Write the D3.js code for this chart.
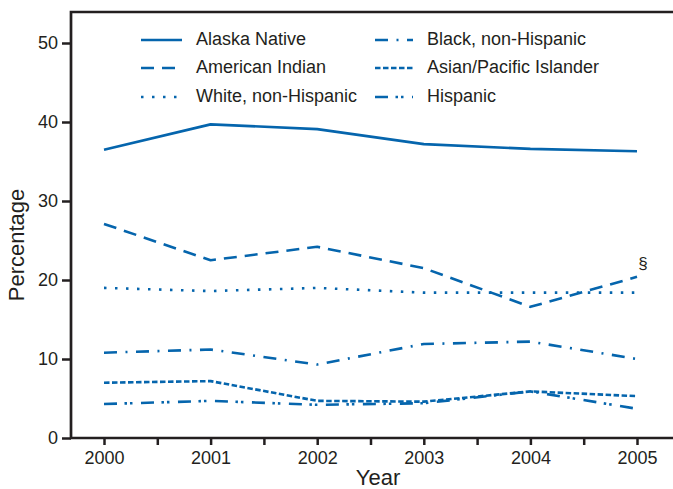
<!DOCTYPE html>
<html>
<head>
<meta charset="utf-8">
<script src="https://cdn.jsdelivr.net/npm/d3@7"></script>
<style>
  body { margin: 0; background: #fff; }
  text { font-family: "Liberation Sans", Arial, sans-serif; fill: #231f20; }
</style>
</head>
<body>
<svg id="chart" width="673" height="489"></svg>
<script>
// data
const years = [2000, 2001, 2002, 2003, 2004, 2005];
const alaskaNative = [36.5, 39.7, 39.1, 37.2, 36.6, 36.3];
const americanIndian = [27.1, 22.5, 24.2, 21.5, 16.6, 20.4];
const whiteNonHispanic = [19.0, 18.6, 19.0, 18.4, 18.4, 18.4];
const blackNonHispanic = [10.8, 11.2, 9.3, 11.9, 12.2, 10.0];
const asianPacific = [7.0, 7.2, 4.7, 4.6, 5.9, 5.3];
const hispanic = [4.3, 4.7, 4.2, 4.4, 5.9, 3.7];
const yTicks = [0, 10, 20, 30, 40, 50];

const blue = '#0565ad';
const ink = '#231f20';

const series = [
  { name: 'Alaska Native', values: alaskaNative, dash: null, col: 0, row: 0 },
  { name: 'American Indian', values: americanIndian, dash: '13,8', col: 0, row: 1 },
  { name: 'White, non-Hispanic', values: whiteNonHispanic, dash: '2.5,8.5', col: 0, row: 2 },
  { name: 'Black, non-Hispanic', values: blackNonHispanic, dash: '13,8.5,2,8.5', col: 1, row: 0 },
  { name: 'Asian/Pacific Islander', values: asianPacific, dash: '5.5,2.5', col: 1, row: 1 },
  { name: 'Hispanic', values: hispanic, dash: '13,7.5,2.5,3,2.5,8.5', col: 1, row: 2 }
];

const svg = d3.select('#chart');
const plotLeft = 71, plotRight = 673, plotTop = 12, plotBottom = 438;

const x = d3.scaleLinear().domain([2000, 2005]).range([104, 637]);
const y = d3.scaleLinear().domain([0, 50]).range([plotBottom, 43]);

// y axis
const yAxis = svg.append('g')
  .attr('transform', `translate(${plotLeft},0)`)
  .call(d3.axisLeft(y).tickValues(yTicks).tickSize(9).tickPadding(4));
yAxis.select('.domain').remove();
yAxis.selectAll('line').attr('stroke', ink).attr('stroke-width', 2.5);
yAxis.selectAll('text').attr('font-size', 18).style('fill', ink);

// x axis with half-year minor ticks
const xTicks = d3.range(2000, 2005.01, 0.5);
const xAxis = svg.append('g')
  .attr('transform', `translate(0,${plotBottom})`)
  .call(d3.axisBottom(x).tickValues(xTicks).tickSize(7).tickPadding(6)
    .tickFormat(d => Number.isInteger(d) ? d : ''));
xAxis.select('.domain').remove();
xAxis.selectAll('line').attr('stroke', ink).attr('stroke-width', 2.5);
xAxis.selectAll('text').attr('font-size', 18).style('fill', ink);

// frame
svg.append('path')
  .attr('d', `M${plotRight},${plotTop}H${plotLeft}V${plotBottom}H${plotRight}`)
  .attr('fill', 'none')
  .attr('stroke', ink)
  .attr('stroke-width', 2.7);

// lines
const line = d3.line()
  .x((d, i) => x(years[i]))
  .y(d => y(d));

svg.append('g').selectAll('path')
  .data(series)
  .join('path')
  .attr('d', d => line(d.values))
  .attr('fill', 'none')
  .attr('stroke', blue)
  .attr('stroke-width', 2.6)
  .attr('stroke-linejoin', 'round')
  .attr('stroke-dasharray', d => d.dash);

// footnote mark
svg.append('text')
  .attr('x', x(2005) + 6)
  .attr('y', y(americanIndian[5]) - 13)
  .attr('text-anchor', 'middle')
  .attr('dominant-baseline', 'central')
  .attr('font-size', 17)
  .text('§');

// legend
const legendX = [141, 375];
const legendY = [40, 68, 97];
const legend = svg.append('g').selectAll('g')
  .data(series)
  .join('g')
  .attr('transform', d => `translate(${legendX[d.col]},${legendY[d.row]})`);

legend.append('line')
  .attr('x1', 0)
  .attr('x2', d => d.col === 0 ? 41 : 38)
  .attr('stroke', blue)
  .attr('stroke-width', 2.6)
  .attr('stroke-dasharray', d => d.dash);

legend.append('text')
  .attr('x', d => d.col === 0 ? 55 : 52)
  .attr('y', -1)
  .attr('dominant-baseline', 'central')
  .attr('font-size', 18)
  .text(d => d.name);

// axis titles
svg.append('text')
  .attr('x', 378)
  .attr('y', 485)
  .attr('text-anchor', 'middle')
  .attr('font-size', 22)
  .text('Year');

svg.append('text')
  .attr('transform', 'translate(24,245) rotate(-90)')
  .attr('text-anchor', 'middle')
  .attr('font-size', 22)
  .text('Percentage');
</script>
</body>
</html>
